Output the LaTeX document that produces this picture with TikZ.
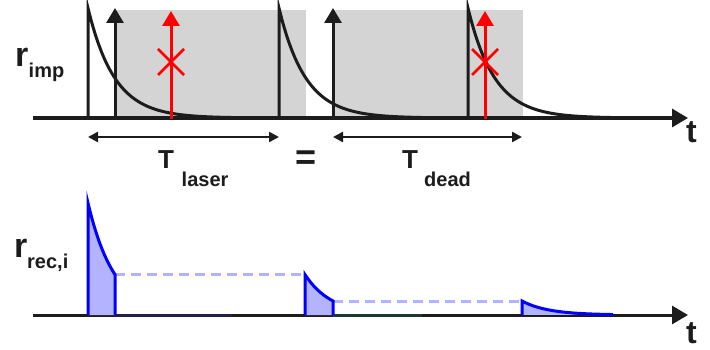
\documentclass[tikz,border=0pt]{standalone}
\usepackage{fontspec}
\setmainfont{Liberation Sans}
\usetikzlibrary{arrows.meta}
\definecolor{ink}{HTML}{1C1C1C}
\definecolor{greybox}{HTML}{D4D4D4}
\definecolor{lblue}{HTML}{B3B3FF}
\definecolor{dblue}{HTML}{0000FF}
\definecolor{pred}{HTML}{FF0000}
\definecolor{navyseg}{HTML}{20204A}
\definecolor{greenseg}{HTML}{1E3A2A}
\tikzset{
  axisline/.style={draw=ink, line width=3.2pt, -{Triangle[width=18pt,length=16pt]}},
  decay/.style={draw=ink, line width=3pt, line join=miter},
  pulse/.style={draw=ink, line width=3pt, -{Triangle[width=17pt,length=15pt]}},
  redpulse/.style={draw=pred, line width=3pt, -{Triangle[width=17pt,length=15pt]}},
  cross/.style={draw=pred, line width=2.8pt},
  span/.style={draw=ink, line width=2.4pt, {Triangle[width=10pt,length=10pt]}-{Triangle[width=10pt,length=10pt]}},
  recshape/.style={draw=dblue, fill=lblue, line width=3pt, line join=miter},
  holdline/.style={draw=lblue, line width=3pt, dash pattern=on 10pt off 6pt},
  lbl/.style={inner sep=0pt, anchor=base west, text=ink, font=\bfseries},
}
\begin{document}
\begin{tikzpicture}[x=1pt,y=-1pt]
\useasboundingbox (0,0) rectangle (710,350);
% grey dead-time windows
\fill[greybox] (117,10) rectangle (306,118);
\fill[greybox] (334,10) rectangle (523,118);
% top axis
\coordinate (a0) at (33,118);
\coordinate (a1) at (688,118);
\draw[axisline] (a0) -- (a1);
% decay curves
\draw[decay] (88,118) -- (88,8) -- plot[domain=88:245,samples=90] (\x,{118-110*exp(-(\x-88)/26.5)});
\draw[decay] (279,118) -- (279,8) -- plot[domain=279:436,samples=90] (\x,{118-110*exp(-(\x-279)/26.5)});
\draw[decay] (468,118) -- (468,8) -- plot[domain=468:625,samples=90] (\x,{118-110*exp(-(\x-468)/26.5)});
% black photon arrows
\draw[pulse] (115,118) -- (115,8);
\draw[pulse] (333,118) -- (333,8);
% red (lost) photon arrows
\draw[redpulse] (171,119) -- (171,11);
\draw[cross] (158,49) -- (184,75);
\draw[cross] (158,75) -- (184,49);
\draw[redpulse] (485,119) -- (485,11);
\draw[cross] (472,49) -- (498,75);
\draw[cross] (472,75) -- (498,49);
% spans
\coordinate (s1a) at (88,137);
\coordinate (s1b) at (279,137);
\coordinate (s2a) at (333,137);
\coordinate (s2b) at (522,137);
\draw[span] (s1a) -- (s1b);
\draw[span] (s2a) -- (s2b);
% labels top
\node[lbl, font=\bfseries\fontsize{34}{34}\selectfont] (rimp) at (15,67) {r};
\node[lbl, font=\bfseries\fontsize{20}{20}\selectfont] (rimps) at (28.5,78) {imp};
\node[lbl, font=\bfseries\fontsize{26}{26}\selectfont] (Tl) at (158,168) {T};
\node[lbl, font=\bfseries\fontsize{20}{20}\selectfont] (Tls) at (181.5,187) {laser};
\node[inner sep=0pt, text=ink, font=\bfseries\fontsize{36}{36}\selectfont] (eq) at (306,160) {=};
\node[lbl, font=\bfseries\fontsize{26}{26}\selectfont] (Td) at (402,168) {T};
\node[lbl, font=\bfseries\fontsize{20}{20}\selectfont] (Tds) at (424,187) {dead};
\node[lbl, font=\bfseries\fontsize{32}{32}\selectfont] (t1) at (686,143) {t};
% bottom plot
\coordinate (b0) at (33,315);
\coordinate (b1) at (688,315);
\fill[lblue] (88,315) -- (88,203) -- plot[domain=88:115,samples=30] (\x,{315-112*exp(-(\x-88)/26.5)}) -- (115,315) -- cycle;
\fill[lblue] (305,315) -- (305,274.6) -- plot[domain=305:333,samples=30] (\x,{315-40.4*exp(-(\x-305)/26.5)}) -- (333,315) -- cycle;
\fill[lblue] (522,315) -- (522,301) -- plot[domain=522:613,samples=60] (\x,{315-14*exp(-(\x-522)/26.5)}) -- (613,315) -- cycle;
\draw[holdline] (115,274.6) -- (305,274.6);
\draw[holdline] (333,301) -- (522,301);
\draw[axisline, line width=3pt] (b0) -- (b1);
\draw[draw=navyseg, line width=3pt] (115,315) -- (232,315);
\draw[draw=greenseg, line width=3pt] (333,315) -- (422,315);
\draw[recshape] (88,315) -- (88,203) -- plot[domain=88:115,samples=30] (\x,{315-112*exp(-(\x-88)/26.5)}) -- (115,315);
\draw[recshape] (305,315) -- (305,274.6) -- plot[domain=305:333,samples=30] (\x,{315-40.4*exp(-(\x-305)/26.5)}) -- (333,315);
\draw[recshape] (522,315) -- (522,301) -- plot[domain=522:613,samples=60] (\x,{315-14*exp(-(\x-522)/26.5)});
\node[lbl, font=\bfseries\fontsize{34}{34}\selectfont] (rrec) at (14,258) {r};
\node[lbl, font=\bfseries\fontsize{20}{20}\selectfont] (rrecs) at (27,268) {rec,i};
\node[lbl, font=\bfseries\fontsize{32}{32}\selectfont] (t2) at (686,343) {t};
\end{tikzpicture}
\end{document}
